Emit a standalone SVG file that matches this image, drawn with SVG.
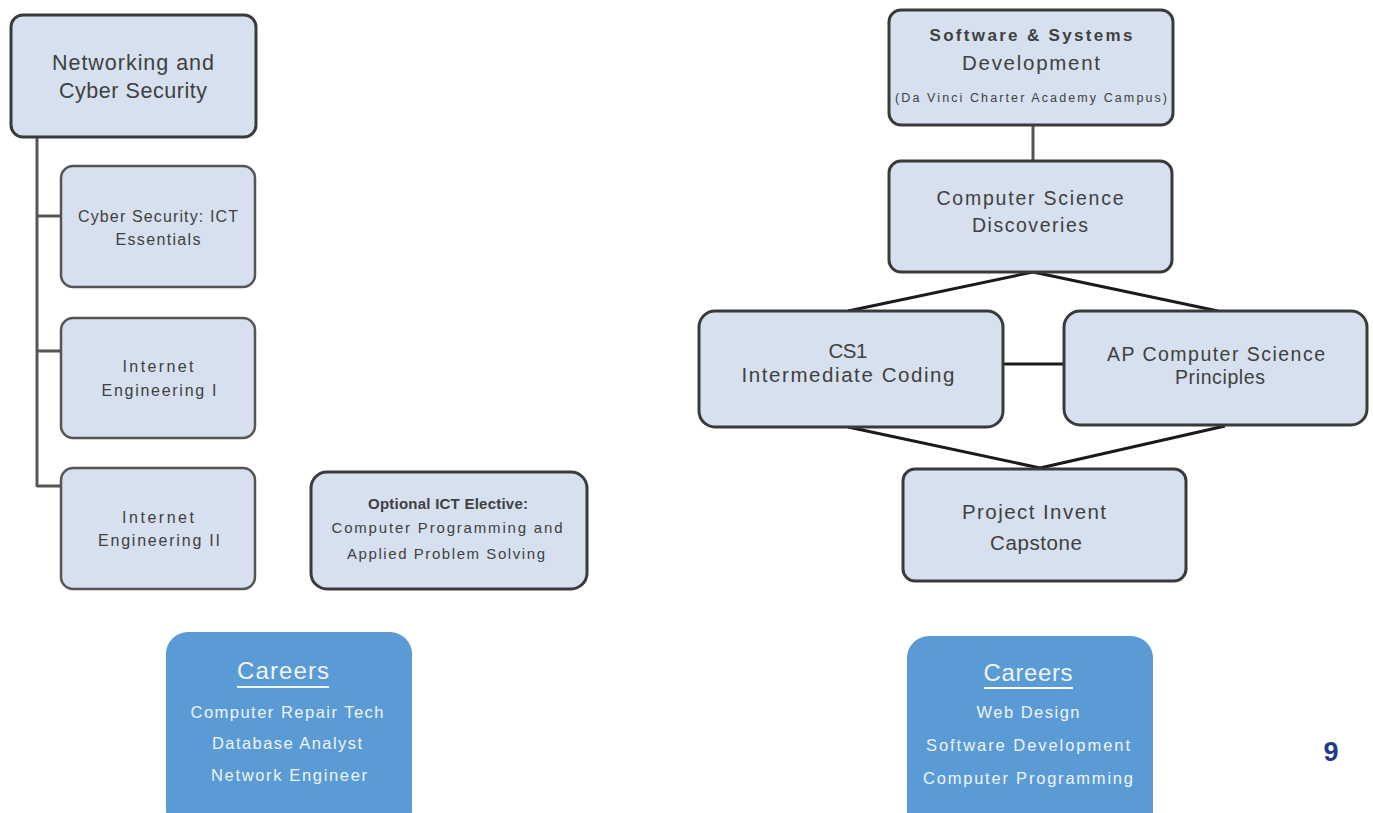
<svg xmlns="http://www.w3.org/2000/svg" width="1373" height="813" viewBox="0 0 1373 813">
  <style>
    .box { fill: #d6e0ee; stroke: #3a3a3a; stroke-width: 3; }
    .box-thin { fill: #d6e0ee; stroke: #555; stroke-width: 2.5; }
    .career { fill: #5b9bd5; }
    .lbl { font-family: "Liberation Sans", Arial, sans-serif; fill: #404040; text-anchor: middle; }
    .clbl { font-family: "Liberation Sans", Arial, sans-serif; fill: #eef4fb; text-anchor: middle; }
    .wire { stroke: #555; stroke-width: 3; fill: none; }
    .wire-dark { stroke: #1a1a1a; stroke-width: 3; fill: none; }
  </style>

  <!-- connectors -->
  <g id="connectors">
    <path class="wire" d="M37 137 V487 M37 216 H61 M37 351 H61 M37 486 H61"/>
    <path class="wire" d="M1033 126 V160"/>
    <path class="wire-dark" d="M1033 272 L848 311 M1033 272 L1218 311"/>
    <path class="wire-dark" d="M1003 364 H1063"/>
    <path class="wire-dark" d="M848 427 L1040 468 M1225 426 L1040 468"/>
  </g>

  <!-- left column -->
  <g id="networking">
    <rect class="box" x="11" y="15" width="245" height="122" rx="12"/>
    <text class="lbl" x="133" y="70" font-size="21.5" textLength="162" lengthAdjust="spacing">Networking and</text>
    <text class="lbl" x="133" y="98" font-size="21.5" textLength="148" lengthAdjust="spacing">Cyber Security</text>
  </g>
  <g id="cyber-ict">
    <rect class="box-thin" x="61" y="166" width="194" height="121" rx="12"/>
    <text class="lbl" x="158" y="222" font-size="16" textLength="160" lengthAdjust="spacing">Cyber Security: ICT</text>
    <text class="lbl" x="158" y="245" font-size="16" textLength="85" lengthAdjust="spacing">Essentials</text>
  </g>
  <g id="internet-eng-1">
    <rect class="box-thin" x="61" y="318" width="194" height="120" rx="12"/>
    <text class="lbl" x="158" y="372" font-size="16" textLength="71" lengthAdjust="spacing">Internet</text>
    <text class="lbl" x="159" y="396" font-size="16" textLength="115" lengthAdjust="spacing">Engineering I</text>
  </g>
  <g id="internet-eng-2">
    <rect class="box-thin" x="61" y="468" width="194" height="121" rx="12"/>
    <text class="lbl" x="158" y="523" font-size="16" textLength="72" lengthAdjust="spacing">Internet</text>
    <text class="lbl" x="159" y="546" font-size="16" textLength="122" lengthAdjust="spacing">Engineering II</text>
  </g>
  <g id="elective">
    <rect class="box" x="311" y="472" width="276" height="117" rx="16"/>
    <text class="lbl" x="448" y="509" font-size="15" font-weight="bold" fill="#222" textLength="160" lengthAdjust="spacing">Optional ICT Elective:</text>
    <text class="lbl" x="447" y="533" font-size="15" textLength="231" lengthAdjust="spacing">Computer Programming and</text>
    <text class="lbl" x="446" y="559" font-size="15" textLength="198" lengthAdjust="spacing">Applied Problem Solving</text>
  </g>
  <g id="careers-left">
    <rect class="career" x="166" y="632" width="246" height="200" rx="22"/>
    <text class="clbl" x="283" y="679" font-size="24" textLength="92" lengthAdjust="spacing">Careers</text>
    <line x1="237" y1="687" x2="329" y2="687" stroke="#eef4fb" stroke-width="2"/>
    <text class="clbl" x="287" y="718" font-size="16.5" textLength="193" lengthAdjust="spacing">Computer Repair Tech</text>
    <text class="clbl" x="287" y="749" font-size="16.5" textLength="150" lengthAdjust="spacing">Database Analyst</text>
    <text class="clbl" x="289" y="781" font-size="16.5" textLength="156" lengthAdjust="spacing">Network Engineer</text>
  </g>

  <!-- right column -->
  <g id="software">
    <rect class="box" x="889" y="10" width="284" height="115" rx="12"/>
    <text class="lbl" x="1031" y="41" font-size="17" font-weight="bold" textLength="203" lengthAdjust="spacing">Software &amp; Systems</text>
    <text class="lbl" x="1031" y="70" font-size="20.5" textLength="138" lengthAdjust="spacing">Development</text>
    <text class="lbl" x="1031" y="102" font-size="12.5" textLength="272" lengthAdjust="spacing">(Da Vinci Charter Academy Campus)</text>
  </g>
  <g id="cs-discoveries">
    <rect class="box" x="889" y="161" width="283" height="111" rx="12"/>
    <text class="lbl" x="1030" y="205" font-size="19.5" textLength="187" lengthAdjust="spacing">Computer Science</text>
    <text class="lbl" x="1030" y="232" font-size="19.5" textLength="116" lengthAdjust="spacing">Discoveries</text>
  </g>
  <g id="cs1">
    <rect class="box" x="699" y="311" width="304" height="116" rx="16"/>
    <text class="lbl" x="848" y="358" font-size="20.5" textLength="39" lengthAdjust="spacing">CS1</text>
    <text class="lbl" x="848" y="382" font-size="20.5" textLength="213" lengthAdjust="spacing">Intermediate Coding</text>
  </g>
  <g id="ap-csp">
    <rect class="box" x="1064" y="311" width="303" height="114" rx="16"/>
    <text class="lbl" x="1216" y="361" font-size="19.5" textLength="218" lengthAdjust="spacing">AP Computer Science</text>
    <text class="lbl" x="1220" y="384" font-size="19.5" textLength="90" lengthAdjust="spacing">Principles</text>
  </g>
  <g id="capstone">
    <rect class="box" x="903" y="469" width="283" height="112" rx="12"/>
    <text class="lbl" x="1034" y="519" font-size="20.5" textLength="144" lengthAdjust="spacing">Project Invent</text>
    <text class="lbl" x="1036" y="550" font-size="20.5" textLength="92" lengthAdjust="spacing">Capstone</text>
  </g>
  <g id="careers-right">
    <rect class="career" x="907" y="636" width="246" height="200" rx="22"/>
    <text class="clbl" x="1028" y="681" font-size="24" textLength="89" lengthAdjust="spacing">Careers</text>
    <line x1="984" y1="688" x2="1073" y2="688" stroke="#ffffff" stroke-width="2"/>
    <text class="clbl" x="1028" y="718" font-size="16.5" textLength="103" lengthAdjust="spacing">Web Design</text>
    <text class="clbl" x="1028" y="751" font-size="16.5" textLength="204" lengthAdjust="spacing">Software Development</text>
    <text class="clbl" x="1028" y="784" font-size="16.5" textLength="210" lengthAdjust="spacing">Computer Programming</text>
  </g>

  <text x="1331" y="761" font-family="Liberation Sans, Arial, sans-serif" font-size="27" font-weight="bold" fill="#1f3a8a" text-anchor="middle">9</text>
</svg>
